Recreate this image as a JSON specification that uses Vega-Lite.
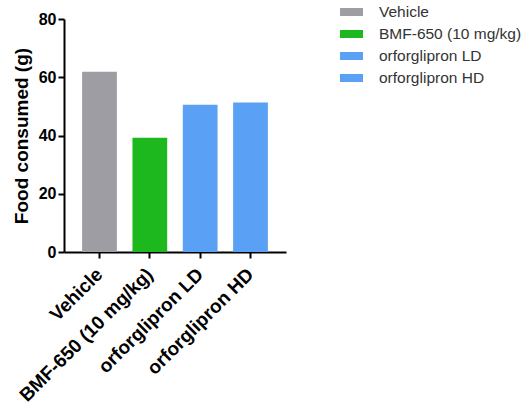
{
  "$schema": "https://vega.github.io/schema/vega-lite/v6.json",
  "autosize": {"type": "none"},
  "padding": {"left": 64, "top": 19, "right": 244, "bottom": 158},
  "width": 222,
  "height": 233,
  "background": "white",
  "config": {
    "font": "Liberation Sans",
    "view": {"stroke": null}
  },
  "data": {
    "values": [
      {"group": "Vehicle", "food": 61.9},
      {"group": "BMF-650 (10 mg/kg)", "food": 39.2},
      {"group": "orforglipron LD", "food": 50.6},
      {"group": "orforglipron HD", "food": 51.3}
    ]
  },
  "mark": {"type": "bar"},
  "encoding": {
    "x": {
      "field": "group",
      "type": "nominal",
      "sort": null,
      "scale": {"paddingInner": 0.31, "paddingOuter": 0.36},
      "axis": {
        "title": null,
        "labelAngle": -45,
        "labelAlign": "right",
        "labelBaseline": "middle",
        "labelFontSize": 19,
        "labelFontWeight": "bold",
        "labelColor": "black",
        "labelPadding": 13,
        "domainColor": "black",
        "domainWidth": 2,
        "tickColor": "black",
        "tickWidth": 2,
        "tickSize": 6
      }
    },
    "y": {
      "field": "food",
      "type": "quantitative",
      "scale": {"domain": [0, 80], "nice": false},
      "axis": {
        "title": "Food consumed (g)",
        "titleFontSize": 19,
        "titleFontWeight": "bold",
        "titleColor": "black",
        "titlePadding": 7,
        "values": [0, 20, 40, 60, 80],
        "grid": false,
        "labelFontSize": 16,
        "labelFontWeight": "bold",
        "labelColor": "black",
        "labelPadding": 2,
        "domainColor": "black",
        "domainWidth": 2,
        "tickColor": "black",
        "tickWidth": 2,
        "tickSize": 6
      }
    },
    "color": {
      "field": "group",
      "type": "nominal",
      "sort": null,
      "scale": {
        "domain": ["Vehicle", "BMF-650 (10 mg/kg)", "orforglipron LD", "orforglipron HD"],
        "range": ["#9e9da4", "#1db81d", "#5aa0f5", "#5aa0f5"]
      },
      "legend": {
        "title": null,
        "orient": "none",
        "legendX": 276,
        "legendY": -18.5,
        "symbolType": "M-1,-0.35H1V0.35H-1Z",
        "symbolSize": 529,
        "symbolStrokeWidth": 0,
        "labelFontSize": 15.5,
        "labelColor": "#333333",
        "labelOffset": 16,
        "rowPadding": 2
      }
    }
  }
}
